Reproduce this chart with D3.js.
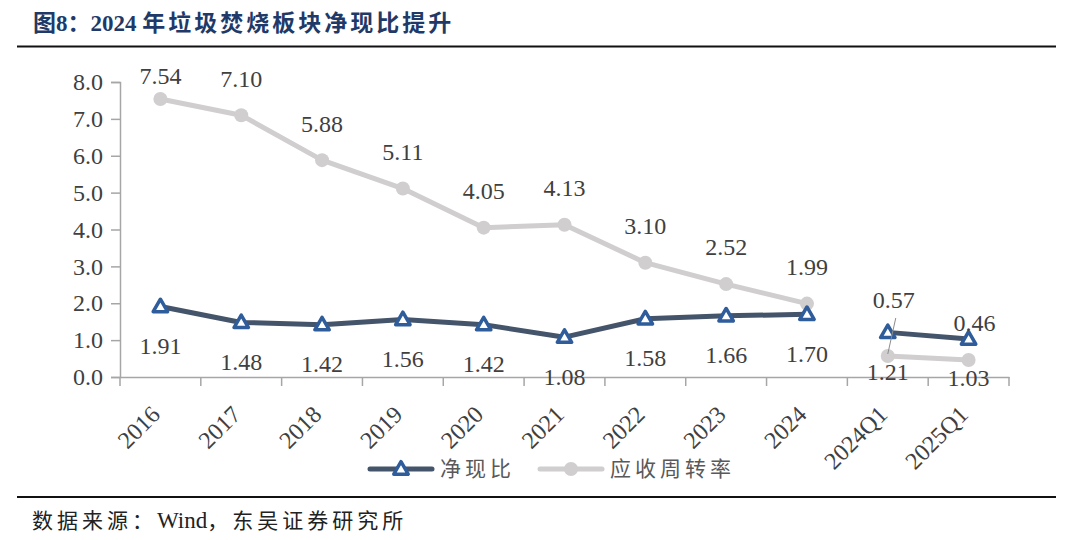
<!DOCTYPE html>
<html>
<head>
<meta charset="utf-8">
<script src="https://cdn.jsdelivr.net/npm/d3@7"></script>
<style>
	body { margin: 0; background: #fff; }
	svg { display: block; }
</style>
</head>
<body>
<svg class="svgWrapper" width="1080" height="540"></svg>
<script>

// data
const categories = ['2016', '2017', '2018', '2019', '2020', '2021', '2022', '2023', '2024', '2024Q1', '2025Q1'];
const netCashRatio = [1.91, 1.48, 1.42, 1.56, 1.42, 1.08, 1.58, 1.66, 1.70, 1.21, 1.03];
const receivableTurnover = [7.54, 7.10, 5.88, 5.11, 4.05, 4.13, 3.10, 2.52, 1.99, 0.57, 0.46];
const yTicks = [0, 1, 2, 3, 4, 5, 6, 7, 8];

// label nudges (layout only)
const grayLabelDy = [-23, -37, -37, -37, -37, -37, -37, -37, -37, -56, -37];
const blueLabelDy = 39;

const serif = '"Liberation Serif", "Times New Roman", serif';
const cjk = '"Noto Sans CJK SC", sans-serif';
const axisColor = '#a6a6a6';
const textColor = '#404040';
const blueLine = '#44546a';
const blueMarker = '#2f5c9a';
const grayLine = '#d0cece';

const svgObj = d3.select('.svgWrapper');

// title + rules
const title = svgObj.append('text')
	.attr('x', 33).attr('y', 31)
	.attr('font-weight', 'bold')
	.attr('font-size', 23)
	.attr('fill', '#1f3a68');
title.append('tspan').attr('font-family', cjk).text('图');
title.append('tspan').attr('font-family', serif).text('8');
title.append('tspan').attr('font-family', cjk).text('：');
title.append('tspan').attr('font-family', serif).text('2024 ');
title.append('tspan').attr('font-family', cjk).attr('letter-spacing', 3).text('年垃圾焚烧板块净现比提升');

svgObj.append('line')
	.attr('x1', 17).attr('x2', 1056).attr('y1', 46.5).attr('y2', 46.5)
	.attr('stroke', '#111').attr('stroke-width', 2);
svgObj.append('line')
	.attr('x1', 17).attr('x2', 1056).attr('y1', 497).attr('y2', 497)
	.attr('stroke', '#111').attr('stroke-width', 2);

const source = svgObj.append('text')
	.attr('x', 32).attr('y', 528)
	.attr('font-size', 21)
	.attr('fill', '#222');
source.append('tspan').attr('font-family', cjk).attr('letter-spacing', 4).text('数据来源：');
source.append('tspan').attr('font-family', serif).attr('font-size', 23).text('Wind');
source.append('tspan').attr('font-family', cjk).attr('letter-spacing', 4).text('，东吴证券研究所');

// scales
const xScale = d3.scaleBand().domain(categories).range([120, 1009]);
const yScale = d3.scaleLinear().domain([0, 8]).range([377, 82]);
const xCenter = d => xScale(d) + xScale.bandwidth() / 2;

// y axis
const yAxisG = svgObj.append('g')
	.attr('transform', 'translate(120,0)')
	.call(d3.axisLeft(yScale).tickValues(yTicks).tickFormat(d3.format('.1f')).tickSize(9).tickPadding(8));

// x axis
const xAxisG = svgObj.append('g')
	.attr('transform', 'translate(0,377)')
	.call(d3.axisBottom(xScale).tickSize(0).tickPadding(0));

// boundary ticks between categories
const edges = categories.map(c => xScale(c)).concat([xScale.range()[1]]);
xAxisG.selectAll('.edgeTick')
	.data(edges)
	.join('line')
	.attr('class', 'edgeTick')
	.attr('x1', d => d).attr('x2', d => d)
	.attr('y1', 0).attr('y2', 9)
	.attr('stroke', axisColor).attr('stroke-width', 1.5);

[yAxisG, xAxisG].forEach(g => {
	g.select('.domain').attr('stroke', axisColor).attr('stroke-width', 1.5);
	g.selectAll('.tick line').attr('stroke', axisColor).attr('stroke-width', 1.5);
	g.selectAll('text')
		.attr('font-family', serif)
		.attr('font-size', 24)
		.attr('fill', textColor);
});

xAxisG.selectAll('.tick text')
	.attr('text-anchor', 'end')
	.attr('dy', 0)
	.attr('transform', 'translate(1,39) rotate(-45)');

// series points
const points = (values) => categories.map((c, i) => ({ cat: c, v: values[i], i, q: c.includes('Q') }));
const grayPts = points(receivableTurnover);
const bluePts = points(netCashRatio);

const lineGen = d3.line().x(d => xCenter(d.cat)).y(d => yScale(d.v));
const segments = pts => [pts.filter(d => !d.q), pts.filter(d => d.q)];

const plotG = svgObj.append('g');

// gray series
plotG.selectAll('.grayLine')
	.data(segments(grayPts))
	.join('path')
	.attr('class', 'grayLine')
	.attr('d', lineGen)
	.attr('fill', 'none')
	.attr('stroke', grayLine)
	.attr('stroke-width', 5)
	.attr('stroke-linejoin', 'round');

plotG.selectAll('.grayDot')
	.data(grayPts)
	.join('circle')
	.attr('class', 'grayDot')
	.attr('cx', d => xCenter(d.cat))
	.attr('cy', d => yScale(d.v))
	.attr('r', 7)
	.attr('fill', grayLine);

// blue series
plotG.selectAll('.blueLine')
	.data(segments(bluePts))
	.join('path')
	.attr('class', 'blueLine')
	.attr('d', lineGen)
	.attr('fill', 'none')
	.attr('stroke', blueLine)
	.attr('stroke-width', 5)
	.attr('stroke-linejoin', 'round');

const triangle = d3.symbol().type(d3.symbolTriangle).size(90);

plotG.selectAll('.blueTri')
	.data(bluePts)
	.join('path')
	.attr('class', 'blueTri')
	.attr('transform', d => `translate(${xCenter(d.cat)},${yScale(d.v) + 1})`)
	.attr('d', triangle)
	.attr('fill', '#fff')
	.attr('stroke', blueMarker)
	.attr('stroke-width', 3.5)
	.attr('stroke-linejoin', 'round');

// data labels
const labelG = svgObj.append('g')
	.attr('font-family', serif)
	.attr('font-size', 24)
	.attr('fill', textColor)
	.attr('text-anchor', 'middle');

labelG.selectAll('.grayLabel')
	.data(grayPts)
	.join('text')
	.attr('class', 'grayLabel')
	.attr('x', d => xCenter(d.cat) + (d.q ? 6 : 0))
	.attr('y', d => yScale(d.v) + grayLabelDy[d.i])
	.attr('dy', '0.35em')
	.text(d => d3.format('.2f')(d.v));

labelG.selectAll('.blueLabel')
	.data(bluePts)
	.join('text')
	.attr('class', 'blueLabel')
	.attr('x', d => xCenter(d.cat))
	.attr('y', d => yScale(d.v) + blueLabelDy)
	.attr('dy', '0.35em')
	.text(d => d3.format('.2f')(d.v));

// leader line for the lifted 2024Q1 label
const q1 = grayPts[9];
labelG.append('line')
	.attr('x1', xCenter(q1.cat) + 8).attr('y1', yScale(q1.v) - 38)
	.attr('x2', xCenter(q1.cat)).attr('y2', yScale(q1.v) - 2)
	.attr('stroke', '#8c8c8c').attr('stroke-width', 1);

// legend
const legendItems = [
	{ name: '净现比', x: 370, kind: 'tri' },
	{ name: '应收周转率', x: 540, kind: 'dot' }
];
const legendG = svgObj.append('g').attr('transform', 'translate(0,469)');
const item = legendG.selectAll('g').data(legendItems).join('g')
	.attr('transform', d => `translate(${d.x},0)`);

item.append('line')
	.attr('x1', 0).attr('x2', 62).attr('y1', 0).attr('y2', 0)
	.attr('stroke', d => d.kind === 'tri' ? blueLine : grayLine)
	.attr('stroke-width', 5)
	.attr('stroke-linecap', 'round');

item.filter(d => d.kind === 'tri').append('path')
	.attr('transform', 'translate(31,1)')
	.attr('d', triangle)
	.attr('fill', '#fff')
	.attr('stroke', blueMarker)
	.attr('stroke-width', 3.5)
	.attr('stroke-linejoin', 'round');

item.filter(d => d.kind === 'dot').append('circle')
	.attr('cx', 31).attr('cy', 0).attr('r', 7)
	.attr('fill', grayLine);

item.append('text')
	.attr('x', 70).attr('y', 0).attr('dy', '0.35em')
	.attr('font-family', cjk)
	.attr('font-size', 21)
	.attr('letter-spacing', 4)
	.attr('fill', '#595959')
	.text(d => d.name);

</script>
</body>
</html>
